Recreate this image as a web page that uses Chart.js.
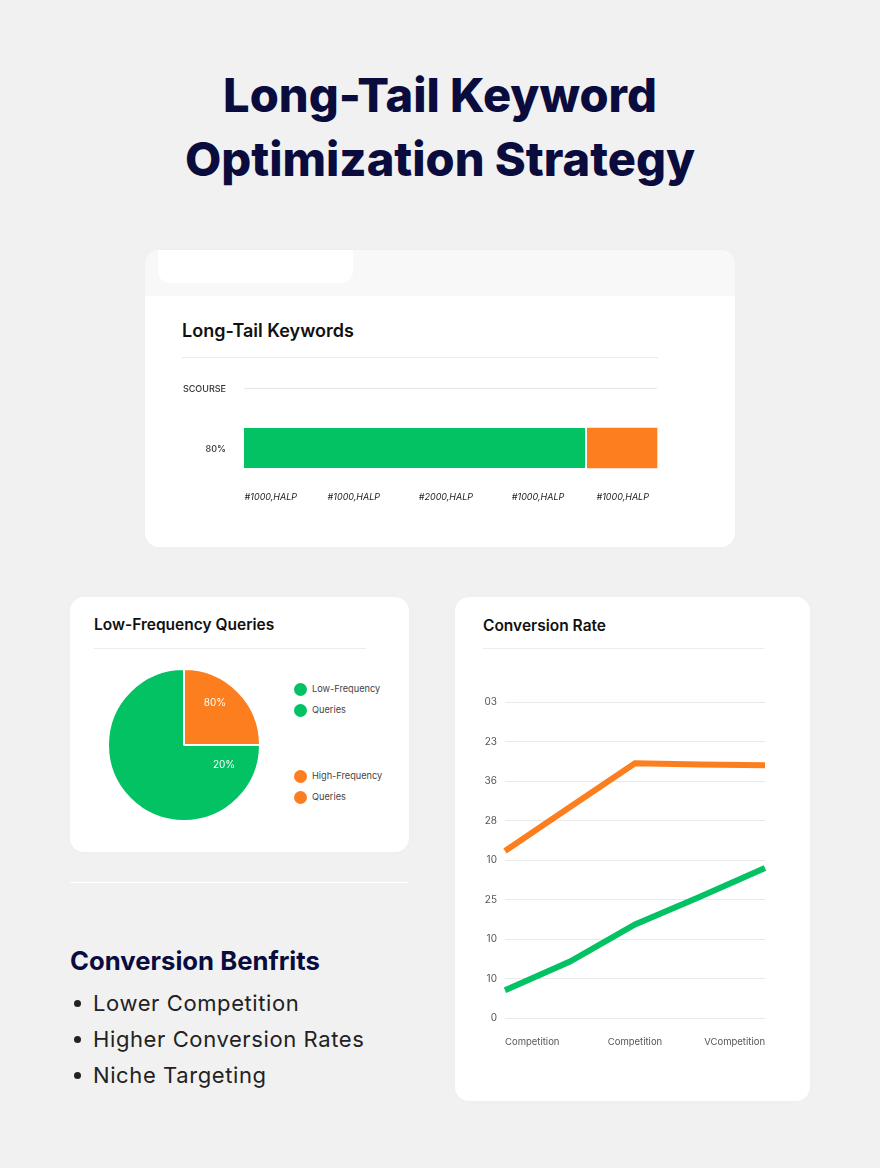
<!DOCTYPE html>
<html>
<head>
<meta charset="utf-8">
<script src="https://cdn.jsdelivr.net/npm/chart.js@4"></script>
<style>
html, body { margin: 0; padding: 0; }
body { width: 880px; height: 1168px; background: #f1f1f1; position: relative; overflow: hidden; font-family: Inter, sans-serif; }
.abs { position: absolute; white-space: nowrap; }
.card { position: absolute; background: #fff; border-radius: 14px; box-shadow: 0 0 6px rgba(0,0,0,0.02); }
h1 { position: absolute; left: 0; width: 880px; margin: 0; text-align: center; font-size: 47px; line-height: 64px; font-weight: 800; color: #0a0c3e; }
.cardTitle { font-weight: 600; color: #111; font-size: 17px; }
.rule { position: absolute; height: 1px; background: #ececec; }
canvas { position: absolute; }
.dot { position: absolute; width: 13px; height: 13px; border-radius: 50%; }
.legendText { position: absolute; font-size: 9.2px; color: #444; white-space: nowrap; }
</style>
</head>
<body>
<h1 style="top:63px">Long-Tail Keyword<br>Optimization Strategy</h1>

<div class="card" style="left:145px;top:250px;width:590px;height:297px;overflow:hidden">
  <div style="position:absolute;left:0;top:0;width:590px;height:46px;background:#f8f8f8"></div>
  <div style="position:absolute;left:13px;top:-10px;width:195px;height:43px;border-radius:12px;background:#fff"></div>
</div>
<div class="abs cardTitle" style="left:182px;top:320px;font-size:18px">Long-Tail Keywords</div>
<div class="rule" style="left:182px;top:357px;width:476px"></div>
<canvas id="barChart" style="left:170px;top:370px;width:500px;height:150px"></canvas>

<div class="card" style="left:70px;top:597px;width:339px;height:255px"></div>
<div class="abs cardTitle" style="left:94px;top:615px;font-size:15.5px">Low-Frequency Queries</div>
<div class="rule" style="left:94px;top:648px;width:272px"></div>
<canvas id="pieChart" style="left:99px;top:660px;width:170px;height:170px"></canvas>
<div id="pieLegend"></div>

<div class="rule" style="left:70px;top:882px;width:338px;background:#fff"></div>
<div class="abs" style="left:70px;top:945px;font-size:25.7px;font-weight:700;color:#0a0c3e">Conversion Benfrits</div>
<div id="benefits"></div>

<div class="card" style="left:455px;top:597px;width:355px;height:504px"></div>
<div class="abs cardTitle" style="left:483px;top:616px;font-size:15.5px">Conversion Rate</div>
<div class="rule" style="left:483px;top:648px;width:281px"></div>
<canvas id="lineChart" style="left:470px;top:688px;width:310px;height:372px"></canvas>

<script>
var green = '#02c263';
var orange = '#fd7e1f';

// bar chart
var barCategories = ['SCOURSE', '80%'];
var barGreen = [null, 83];
var barOrange = [null, 17];
var barTickValues = [6.5, 26.6, 48.9, 71.2, 91.7];
var barTickLabels = ['#1000,HALP', '#1000,HALP', '#2000,HALP', '#1000,HALP', '#1000,HALP'];

// pie chart
var pieCategories = ['High-Frequency Queries', 'Low-Frequency Queries'];
var pieValues = [25, 75];
var pieLabels = ['80%', '20%'];
var legendLines = ['Low-Frequency', 'Queries', 'High-Frequency', 'Queries'];
var legendColors = [green, green, orange, orange];
var legendTops = [689, 710, 776, 797];

// line chart
var lineCategories = ['Competition', '', 'Competition', '', 'VCompetition'];
var lineOrange = [42.3, 53.4, 64.5, 64.2, 64];
var lineGreen = [7, 14.3, 23.7, 30.7, 38];
var lineTickLabels = ['0', '10', '10', '25', '10', '28', '36', '23', '03'];

var benefits = ['Lower Competition', 'Higher Conversion Rates', 'Niche Targeting'];

// html bits
var html = '';
legendLines.forEach(function (line, i) {
    html += '<div class="dot" style="left:294px;top:' + (legendTops[i] - 6) + 'px;background:' + legendColors[i] + '"></div>';
    html += '<div class="legendText" style="left:312px;top:' + (legendTops[i] - 6) + 'px">' + line + '</div>';
});
document.getElementById('pieLegend').innerHTML = html;

html = '';
benefits.forEach(function (line, i) {
    var y = 1003 + i * 36;
    html += '<div class="abs" style="left:74px;top:' + (y - 3) + 'px;width:7px;height:7px;border-radius:50%;background:#222"></div>';
    html += '<div class="abs" style="left:93px;top:' + (y - 13) + 'px;font-size:22px;letter-spacing:0.6px;color:#222">' + line + '</div>';
});
document.getElementById('benefits').innerHTML = html;

new Chart(document.getElementById('barChart'), {
    type: 'bar',
    data: {
        labels: barCategories,
        datasets: [
            { data: barGreen, backgroundColor: green, borderColor: '#fff', borderWidth: { right: 2 }, barThickness: 40, clip: false },
            { data: barOrange, backgroundColor: orange, barThickness: 40, clip: false }
        ]
    },
    options: {
        indexAxis: 'y',
        responsive: false,
        animation: false,
        layout: { padding: { top: 18, right: 13 } },
        plugins: { legend: { display: false }, tooltip: { enabled: false } },
        scales: {
            x: {
                stacked: true,
                min: 0,
                max: 100,
                afterFit: function (axis) {
                    axis.height = 72;
                    axis.paddingLeft = 0;
                    axis.paddingRight = 0;
                },
                grid: { display: false },
                border: { display: false },
                afterBuildTicks: function (axis) {
                    axis.ticks = barTickValues.map(function (v) { return { value: v }; });
                },
                ticks: {
                    autoSkip: false,
                    maxRotation: 0,
                    padding: 36,
                    color: '#222',
                    font: { family: 'Inter', size: 9, style: 'italic' },
                    callback: function (value, index) { return barTickLabels[index]; }
                }
            },
            y: {
                stacked: true,
                offset: false,
                afterFit: function (axis) {
                    axis.width = 74;
                    axis.paddingTop = 0;
                    axis.paddingBottom = 0;
                },
                grid: { color: '#e6e6e6', drawTicks: false, offset: false },
                border: { display: false },
                ticks: { padding: 18, labelOffset: 1.5, color: '#333', font: { family: 'Inter', size: 9, weight: '500' } }
            }
        }
    }
});

var pieLabelPlugin = {
    id: 'pieLabelPlugin',
    afterDatasetsDraw: function (chart) {
        var arc = chart.getDatasetMeta(0).data[0];
        var c = chart.ctx;
        c.save();
        c.fillStyle = '#fff';
        c.font = '10px Inter';
        c.textAlign = 'center';
        c.textBaseline = 'middle';
        c.fillText(pieLabels[0], arc.x + 31, arc.y - 42);
        c.fillText(pieLabels[1], arc.x + 40, arc.y + 20);
        c.restore();
    }
};

new Chart(document.getElementById('pieChart'), {
    type: 'pie',
    data: {
        labels: pieCategories,
        datasets: [{ data: pieValues, backgroundColor: [orange, green], borderColor: '#fff', borderWidth: 2 }]
    },
    options: {
        responsive: false,
        animation: false,
        layout: { padding: 8 },
        plugins: { legend: { display: false }, tooltip: { enabled: false } }
    },
    plugins: [pieLabelPlugin]
});

new Chart(document.getElementById('lineChart'), {
    type: 'line',
    data: {
        labels: lineCategories,
        datasets: [
            { data: lineOrange, borderColor: orange, borderWidth: 6, pointRadius: 0, tension: 0, clip: false },
            { data: lineGreen, borderColor: green, borderWidth: 6, pointRadius: 0, tension: 0, clip: false }
        ]
    },
    options: {
        responsive: false,
        animation: false,
        layout: { padding: { top: 10, right: 15 } },
        plugins: { legend: { display: false }, tooltip: { enabled: false } },
        scales: {
            x: {
                afterFit: function (axis) { axis.height = 42; },
                grid: { display: false },
                border: { display: false },
                ticks: { autoSkip: false, maxRotation: 0, align: 'inner', padding: 10, color: '#555', font: { family: 'Inter', size: 9.5 } }
            },
            y: {
                min: 0,
                max: 80,
                afterFit: function (axis) { axis.width = 35; },
                grid: { color: '#e9e9e9', drawTicks: false },
                border: { display: false },
                ticks: {
                    stepSize: 10,
                    padding: 8,
                    color: '#555',
                    font: { family: 'Inter', size: 10 },
                    callback: function (value, index) { return lineTickLabels[index]; }
                }
            }
        }
    }
});
</script>
</body>
</html>
